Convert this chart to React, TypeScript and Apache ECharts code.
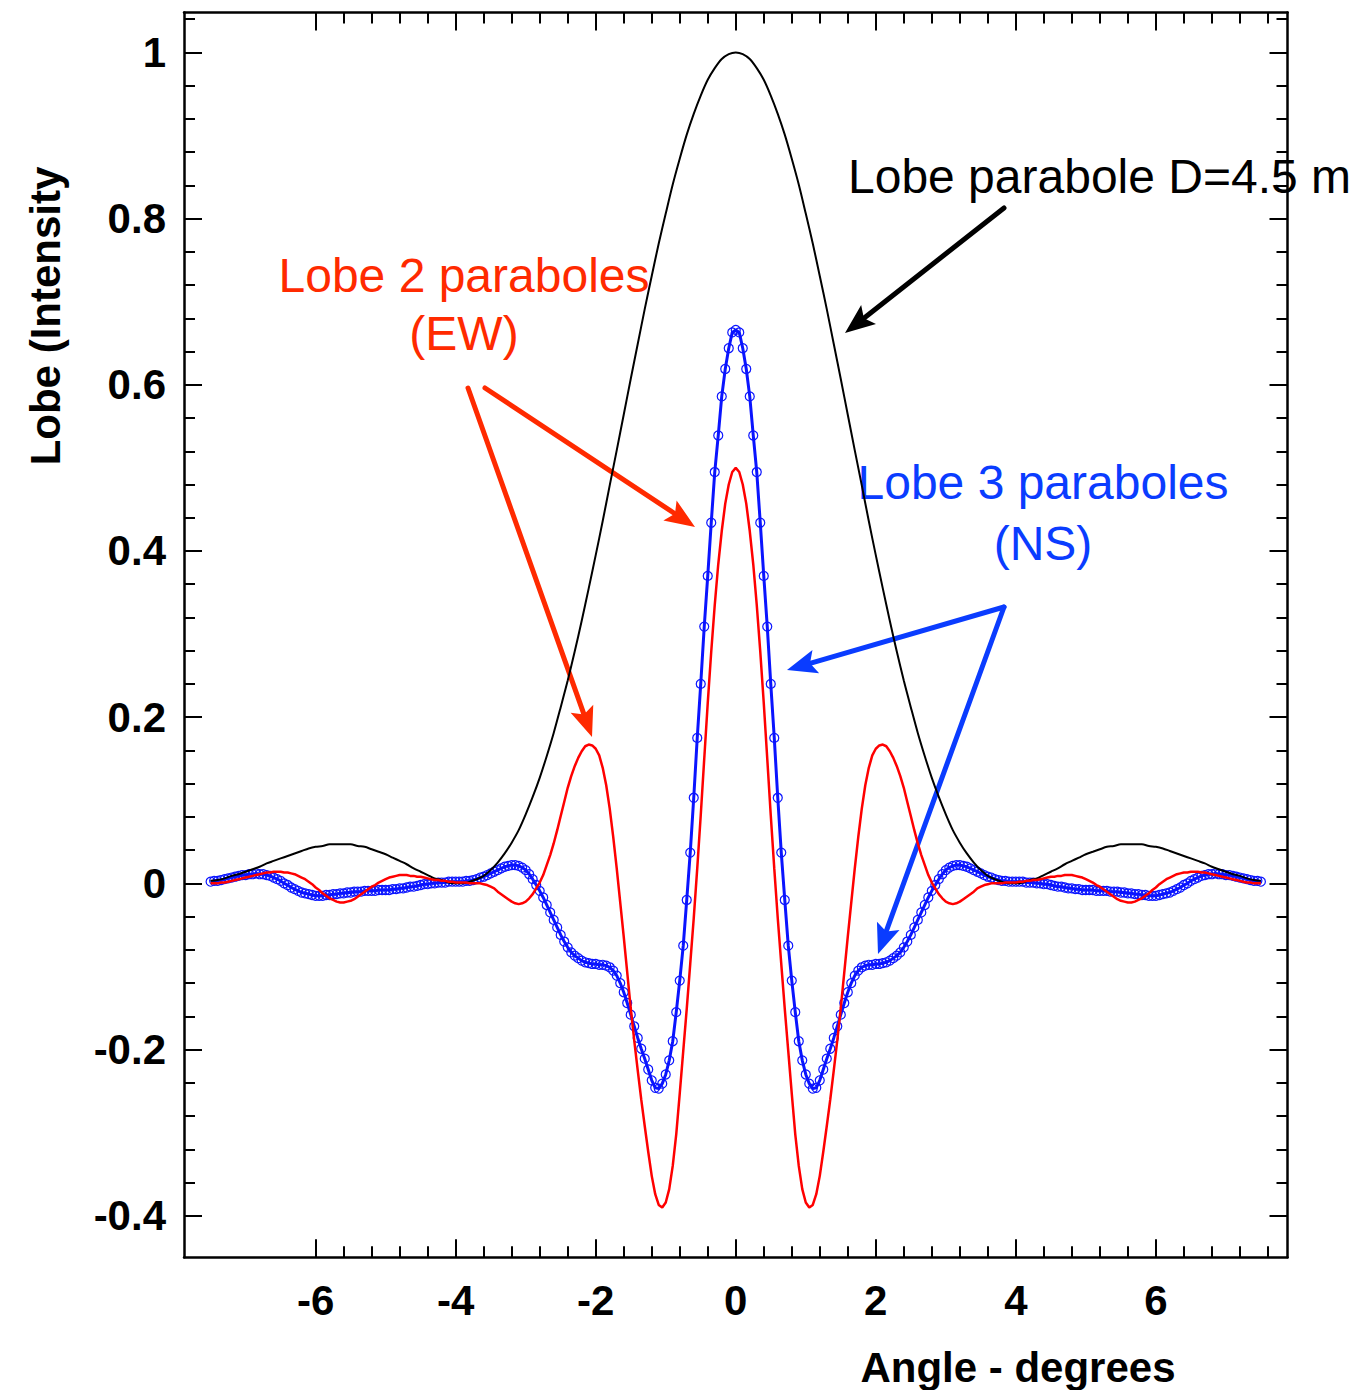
import React, { useEffect, useRef } from "react";
import * as echarts from "echarts";

// ---- data (curves are symmetric about 0, values listed for x >= 0) ----
const FINE_STEP = 0.05; // red and blue sampling (deg)
const COARSE_STEP = 0.1; // black sampling (deg)

// Lobe parabole D=4.5 m (black), x = 0 .. 7.5 step 0.1
const BLACK_HALF = [
  1.0, 0.998, 0.992, 0.981, 0.967, 0.948, 0.926, 0.901, 0.872, 0.841,
  0.806, 0.77, 0.731, 0.691, 0.649, 0.607, 0.564, 0.521, 0.479, 0.436,
  0.395, 0.355, 0.316, 0.279, 0.244, 0.212, 0.181, 0.153, 0.127, 0.104,
  0.083, 0.064, 0.049, 0.036, 0.025, 0.016, 0.009, 0.005, 0.002, 0.0,
  0.0, 0.001, 0.004, 0.006, 0.01, 0.014, 0.018, 0.023, 0.027, 0.031,
  0.035, 0.038, 0.041, 0.044, 0.045, 0.047, 0.047, 0.047, 0.047, 0.045,
  0.044, 0.042, 0.039, 0.036, 0.033, 0.03, 0.027, 0.024, 0.02, 0.017,
  0.014, 0.011, 0.009, 0.006, 0.004, 0.003,
];

// Lobe 2 paraboles EW (red), x = 0 .. 7.5 step 0.05
const RED_HALF = [
  0.5, 0.495, 0.48, 0.457, 0.424, 0.384, 0.335, 0.279, 0.217, 0.15,
  0.082, 0.018, -0.042, -0.097, -0.151, -0.202, -0.253, -0.302, -0.34, -0.368,
  -0.384, -0.39, -0.387, -0.374, -0.352, -0.323, -0.292, -0.26, -0.225, -0.189,
  -0.15, -0.107, -0.064, -0.023, 0.018, 0.056, 0.09, 0.118, 0.139, 0.154,
  0.162, 0.166, 0.167, 0.165, 0.159, 0.151, 0.141, 0.129, 0.115, 0.098,
  0.081, 0.064, 0.048, 0.034, 0.022, 0.01, 0.001, -0.006, -0.013, -0.018,
  -0.022, -0.024, -0.025, -0.024, -0.022, -0.019, -0.016, -0.013, -0.01, -0.006,
  -0.004, -0.002, -0.001, 0.0, 0.0, 0.0, 0.0, 0.001, 0.001, 0.001,
  0.001, 0.002, 0.002, 0.003, 0.003, 0.004, 0.004, 0.005, 0.006, 0.007,
  0.008, 0.008, 0.009, 0.009, 0.01, 0.01, 0.01, 0.009, 0.008, 0.007,
  0.005, 0.003, 0.001, -0.002, -0.004, -0.007, -0.01, -0.013, -0.016, -0.019,
  -0.021, -0.022, -0.023, -0.023, -0.022, -0.02, -0.018, -0.015, -0.012, -0.008,
  -0.005, -0.001, 0.002, 0.005, 0.007, 0.009, 0.011, 0.012, 0.013, 0.013,
  0.014, 0.014, 0.014, 0.013, 0.013, 0.012, 0.011, 0.01, 0.009, 0.008,
  0.007, 0.006, 0.005, 0.004, 0.003, 0.002, 0.001, 0.001, 0.0, 0.0,
  0.0,
];

// Lobe 3 paraboles NS (blue), x = 0 .. 7.5 step 0.05
const BLUE_HALF = [
  0.666, 0.663, 0.644, 0.619, 0.586, 0.539, 0.495, 0.434, 0.37, 0.309,
  0.24, 0.175, 0.103, 0.037, -0.02, -0.075, -0.117, -0.155, -0.19, -0.213,
  -0.23, -0.241, -0.247, -0.246, -0.237, -0.224, -0.211, -0.199, -0.186, -0.172,
  -0.158, -0.144, -0.131, -0.12, -0.111, -0.105, -0.101, -0.099, -0.098, -0.098,
  -0.097, -0.097, -0.096, -0.095, -0.093, -0.09, -0.087, -0.083, -0.077, -0.07,
  -0.062, -0.053, -0.044, -0.035, -0.026, -0.017, -0.009, -0.002, 0.005, 0.011,
  0.016, 0.019, 0.021, 0.022, 0.022, 0.021, 0.02, 0.018, 0.016, 0.014,
  0.012, 0.01, 0.008, 0.007, 0.005, 0.004, 0.003, 0.003, 0.002, 0.002,
  0.002, 0.002, 0.002, 0.001, 0.001, 0.001, 0.0, 0.0, -0.001, -0.001,
  -0.002, -0.003, -0.004, -0.004, -0.005, -0.006, -0.006, -0.007, -0.007, -0.008,
  -0.008, -0.008, -0.008, -0.009, -0.009, -0.009, -0.009, -0.01, -0.01, -0.01,
  -0.011, -0.011, -0.012, -0.012, -0.013, -0.013, -0.014, -0.014, -0.015, -0.015,
  -0.015, -0.014, -0.013, -0.012, -0.011, -0.009, -0.007, -0.005, -0.002, 0.0,
  0.003, 0.005, 0.007, 0.009, 0.01, 0.011, 0.011, 0.012, 0.011, 0.011,
  0.01, 0.01, 0.009, 0.008, 0.007, 0.006, 0.005, 0.004, 0.003, 0.003,
  0.002,
];

const X_MAJOR = [-6, -4, -2, 0, 2, 4, 6];
const X_MINOR = [
  -5.6, -5.2, -4.8, -4.4, -3.6, -3.2, -2.8, -2.4, -1.6, -1.2, -0.8, -0.4,
  0.4, 0.8, 1.2, 1.6, 2.4, 2.8, 3.2, 3.6, 4.4, 4.8, 5.2, 5.6, 6.4, 6.8, 7.2, 7.6,
];
const Y_MAJOR = [-0.4, -0.2, 0, 0.2, 0.4, 0.6, 0.8, 1];
const Y_MINOR = [
  -0.36, -0.32, -0.28, -0.24, -0.16, -0.12, -0.08, -0.04, 0.04, 0.08, 0.12, 0.16,
  0.24, 0.28, 0.32, 0.36, 0.44, 0.48, 0.52, 0.56, 0.64, 0.68, 0.72, 0.76,
  0.84, 0.88, 0.92, 0.96, 1.04,
];

const X_MIN = -7.88;
const X_MAX = 7.88;
const Y_MIN = -0.45;
const Y_MAX = 1.048;

const TITLE_X = "Angle - degrees";
const TITLE_Y = "Lobe (Intensity";
const NOTE_BLACK = "Lobe parabole D=4.5 m";
const NOTE_RED = ["Lobe 2 paraboles", "(EW)"];
const NOTE_BLUE = ["Lobe 3 paraboles", "(NS)"];

// ---- styles ----
const FONT = "'Liberation Sans', Arial, Helvetica, sans-serif";
const RED_LINE = "#ff0000";
const RED_NOTE = "#ff2a00";
const BLUE_LINE = "#0a14ff";
const BLUE_NOTE = "#0a3cff";

function mirror(half: number[], step: number): [number, number][] {
  const pts: [number, number][] = [];
  for (let i = half.length - 1; i > 0; i--) pts.push([-Number((i * step).toFixed(2)), half[i]]);
  for (let i = 0; i < half.length; i++) pts.push([Number((i * step).toFixed(2)), half[i]]);
  return pts;
}

function arrow(from: number[], to: number[], color: string, width = 5, headLen = 30, headW = 12) {
  const dx = to[0] - from[0];
  const dy = to[1] - from[1];
  const len = Math.hypot(dx, dy);
  const ux = dx / len;
  const uy = dy / len;
  const nx = -uy;
  const ny = ux;
  const bx = to[0] - ux * headLen;
  const by = to[1] - uy * headLen;
  const kx = to[0] - ux * headLen * 0.8;
  const ky = to[1] - uy * headLen * 0.8;
  return [
    {
      type: "line",
      silent: true,
      shape: { x1: from[0], y1: from[1], x2: kx, y2: ky },
      style: { stroke: color, lineWidth: width, lineCap: "round" },
    },
    {
      type: "polygon",
      silent: true,
      shape: {
        points: [
          [to[0], to[1]],
          [bx + nx * headW, by + ny * headW],
          [kx, ky],
          [bx - nx * headW, by - ny * headW],
        ],
      },
      style: { fill: color },
    },
  ];
}

function text(t: string, x: number, y: number, color: string, size: number, align: string, weight = "normal", rotation = 0) {
  return {
    type: "text",
    x,
    y,
    rotation,
    silent: true,
    style: {
      text: t,
      fontFamily: FONT,
      fontSize: size,
      fontWeight: weight,
      fill: color,
      align,
      verticalAlign: "middle",
    },
  };
}

export default function App() {
  const ref = useRef<HTMLDivElement>(null);

  useEffect(() => {
    if (!ref.current) return;
    const chart = echarts.init(ref.current, null, { renderer: "svg" });

    const tickStyle = { color: "#000", width: 2 };
    const hiddenLabel = { show: false };
    const frameLine = { show: true, onZero: false, lineStyle: { color: "#000", width: 2.5 } };
    const noLine = { show: false, onZero: false };
    const xAxisBase = { type: "value", min: X_MIN, max: X_MAX, splitLine: { show: false } };
    const yAxisBase = { type: "value", min: Y_MIN, max: Y_MAX, splitLine: { show: false } };

    const graphic: any[] = [
      text(TITLE_X, 1018, 1367, "#000", 42, "center", "bold"),
      text(TITLE_Y, 45, 316, "#000", 42, "center", "bold", Math.PI / 2),
      text(NOTE_BLACK, 848, 176, "#000", 48, "left"),
      text(NOTE_RED[0], 464, 275, RED_NOTE, 48, "center"),
      text(NOTE_RED[1], 464, 333, RED_NOTE, 48, "center"),
      text(NOTE_BLUE[0], 1043, 482, BLUE_NOTE, 48, "center"),
      text(NOTE_BLUE[1], 1043, 543, BLUE_NOTE, 48, "center"),
      ...arrow([1004, 208], [845, 333], "#000"),
      ...arrow([485, 388], [695, 527], RED_NOTE),
      ...arrow([468, 388], [592, 737], RED_NOTE),
      ...arrow([1004, 607], [787, 670], BLUE_NOTE),
      ...arrow([1004, 607], [878, 954], BLUE_NOTE),
    ];

    chart.setOption({
      animation: false,
      backgroundColor: "#fff",
      grid: { left: 184, right: 71.5, top: 12.5, bottom: 132.7, containLabel: false },
      xAxis: [
        {
          ...xAxisBase,
          position: "bottom",
          axisLine: frameLine,
          axisTick: { show: true, inside: true, length: 18, lineStyle: tickStyle, customValues: X_MAJOR },
          axisLabel: {
            show: true,
            customValues: X_MAJOR,
            margin: 22,
            color: "#000",
            fontFamily: FONT,
            fontWeight: "bold",
            fontSize: 42,
          },
        },
        {
          ...xAxisBase,
          position: "bottom",
          axisLine: noLine,
          axisTick: { show: true, inside: true, length: 11, lineStyle: tickStyle, customValues: X_MINOR },
          axisLabel: hiddenLabel,
        },
        {
          ...xAxisBase,
          position: "top",
          axisLine: frameLine,
          axisTick: { show: true, inside: true, length: 18, lineStyle: tickStyle, customValues: X_MAJOR },
          axisLabel: hiddenLabel,
        },
        {
          ...xAxisBase,
          position: "top",
          axisLine: noLine,
          axisTick: { show: true, inside: true, length: 11, lineStyle: tickStyle, customValues: X_MINOR },
          axisLabel: hiddenLabel,
        },
      ],
      yAxis: [
        {
          ...yAxisBase,
          position: "left",
          axisLine: frameLine,
          axisTick: { show: true, inside: true, length: 18, lineStyle: tickStyle, customValues: Y_MAJOR },
          axisLabel: {
            show: true,
            customValues: Y_MAJOR,
            margin: 18,
            color: "#000",
            fontFamily: FONT,
            fontWeight: "bold",
            fontSize: 42,
          },
        },
        {
          ...yAxisBase,
          position: "left",
          axisLine: noLine,
          axisTick: { show: true, inside: true, length: 11, lineStyle: tickStyle, customValues: Y_MINOR },
          axisLabel: hiddenLabel,
        },
        {
          ...yAxisBase,
          position: "right",
          axisLine: frameLine,
          axisTick: { show: true, inside: true, length: 18, lineStyle: tickStyle, customValues: Y_MAJOR },
          axisLabel: hiddenLabel,
        },
        {
          ...yAxisBase,
          position: "right",
          axisLine: noLine,
          axisTick: { show: true, inside: true, length: 11, lineStyle: tickStyle, customValues: Y_MINOR },
          axisLabel: hiddenLabel,
        },
      ],
      series: [
        {
          name: "Lobe 3 paraboles (NS)",
          type: "line",
          xAxisIndex: 0,
          yAxisIndex: 0,
          data: mirror(BLUE_HALF, FINE_STEP),
          symbol: "circle",
          symbolSize: 9,
          showSymbol: true,
          lineStyle: { color: BLUE_LINE, width: 3 },
          itemStyle: { color: "rgba(0,0,0,0)", borderColor: BLUE_LINE, borderWidth: 1.2 },
          emphasis: { disabled: true },
          silent: true,
          z: 2,
        },
        {
          name: "Lobe parabole D=4.5 m",
          type: "line",
          xAxisIndex: 0,
          yAxisIndex: 0,
          data: mirror(BLACK_HALF, COARSE_STEP),
          symbol: "none",
          smooth: 0.3,
          lineStyle: { color: "#000", width: 2 },
          emphasis: { disabled: true },
          silent: true,
          z: 3,
        },
        {
          name: "Lobe 2 paraboles (EW)",
          type: "line",
          xAxisIndex: 0,
          yAxisIndex: 0,
          data: mirror(RED_HALF, FINE_STEP),
          symbol: "none",
          lineStyle: { color: RED_LINE, width: 2.5 },
          emphasis: { disabled: true },
          silent: true,
          z: 4,
        },
      ],
      graphic,
    });

    return () => chart.dispose();
  }, []);

  return (
    <div
      ref={ref}
      style={{ position: "fixed", left: 0, top: 0, width: 1359, height: 1390, background: "#fff" }}
    />
  );
}
